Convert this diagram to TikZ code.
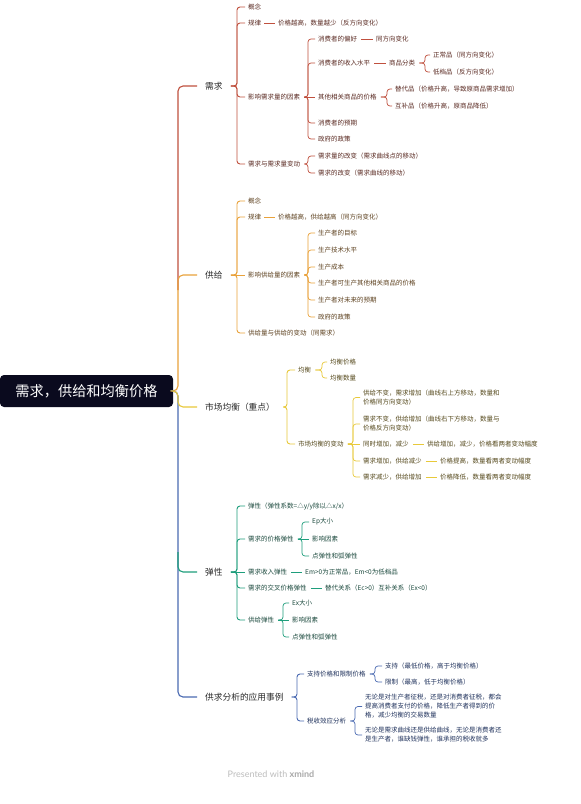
\documentclass[tikz,border=0pt]{standalone}
\usepackage{fontspec}
\setmainfont{Noto Sans CJK SC}
\newfontfamily\footfont{Lato}
\definecolor{cR}{HTML}{C0503E}
\definecolor{cO}{HTML}{E9A23B}
\definecolor{cY}{HTML}{E8C93A}
\definecolor{cG}{HTML}{1E9E7C}
\definecolor{cB}{HTML}{4A6AB2}
\definecolor{tR}{HTML}{5A2A22}
\definecolor{tO}{HTML}{5E4220}
\definecolor{tY}{HTML}{55491C}
\definecolor{tG}{HTML}{1C4A3E}
\definecolor{tB}{HTML}{22345E}
\definecolor{tM}{HTML}{2A2A2A}
\definecolor{rootbg}{HTML}{0A0A1E}
\definecolor{foot}{HTML}{BDBDBD}
\definecolor{footb}{HTML}{A8A8A8}
\newcommand\bra[5]{\draw[#1] ([xshift=#5]#2.east) -| (#4,0 |- #3.west) -- ([xshift=-3pt]#3.west);}
\newcommand\lnk[4]{\draw[#1] ([xshift=#4]#2.east) -- ([xshift=-3pt]#3.west);}
\tikzset{
  rootbox/.style={fill=rootbg, text=white, rounded corners=4pt, minimum width=173pt, minimum height=32pt, inner sep=0pt, font=\fontsize{14.2}{16}\selectfont},
  lvone/.style={font=\fontsize{8.7}{10}\selectfont, text=tM, inner sep=0pt, anchor=west},
  lvtwo/.style={font=\fontsize{6.5}{9}\selectfont, inner sep=0pt, anchor=west, align=left},
  nR/.style={lvtwo, text=tR}, nO/.style={lvtwo, text=tO}, nY/.style={lvtwo, text=tY},
  nG/.style={lvtwo, text=tG}, nB/.style={lvtwo, text=tB},
  trunkR/.style={draw=cR, line width=1.1pt, rounded corners=5pt},
  trunkO/.style={draw=cO, line width=1.1pt, rounded corners=5pt},
  trunkY/.style={draw=cY, line width=1.1pt, rounded corners=5pt},
  trunkG/.style={draw=cG, line width=1.1pt, rounded corners=5pt},
  trunkB/.style={draw=cB, line width=1.1pt, rounded corners=5pt},
  aR/.style={draw=cR, line width=0.9pt, rounded corners=3pt},
  aO/.style={draw=cO, line width=0.9pt, rounded corners=3pt},
  aY/.style={draw=cY, line width=0.9pt, rounded corners=3pt},
  aG/.style={draw=cG, line width=0.9pt, rounded corners=3pt},
  aB/.style={draw=cB, line width=0.9pt, rounded corners=3pt},
  bR/.style={draw=cR, line width=0.7pt, rounded corners=3pt},
  bO/.style={draw=cO, line width=0.7pt, rounded corners=3pt},
  bY/.style={draw=cY, line width=0.7pt, rounded corners=3pt},
  bG/.style={draw=cG, line width=0.7pt, rounded corners=3pt},
  bB/.style={draw=cB, line width=0.7pt, rounded corners=3pt},
}
\begin{document}
\begin{tikzpicture}[x=1pt,y=-1pt]
\useasboundingbox[fill=white] (0,0) rectangle (581,804);
% root
\node[rootbox] (root) at (86.5,391) {需求，供给和均衡价格};
% level 1
\node[lvone] (d) at (205,86) {需求};
\node[lvone] (s) at (205,275) {供给};
\node[lvone] (m) at (205,407) {市场均衡（重点）};
\node[lvone] (e) at (205,572) {弹性};
\node[lvone] (a) at (205,697) {供求分析的应用事例};
% trunk
\coordinate (gtop) at (178,552);
\coordinate (rbot) at (178,290);
\draw[trunkR] (rbot) |- ([xshift=-8pt]d.west);
\draw[trunkO] (root.east) -| (178,0 |- s.west) -- ([xshift=-8pt]s.west);
\draw[trunkB] (root.east) -| (178,0 |- a.west) -- ([xshift=-8pt]a.west);
\draw[trunkG] (gtop) |- ([xshift=-8pt]e.west);
\draw[trunkY] (root.east) -| (178,0 |- m.west) -- ([xshift=-8pt]m.west);

% ===== 需求 =====
\node[nR] (d2a) at (248,7) {概念};
\node[nR] (d2b) at (248,23) {规律};
\node[nR] (d2b1) at (278,23) {价格越高，数量越少（反方向变化）};
\node[nR] (d2c) at (248,97) {影响需求量的因素};
\node[nR] (d3a) at (318,39) {消费者的偏好};
\node[nR] (d3a1) at (376,39) {同方向变化};
\node[nR] (d3b) at (318,63) {消费者的收入水平};
\node[nR] (d3b1) at (389,63) {商品分类};
\node[nR] (d3b1a) at (433,55) {正常品（同方向变化）};
\node[nR] (d3b1b) at (433,72) {低档品（反方向变化）};
\node[nR] (d3c) at (318,97) {其他相关商品的价格};
\node[nR] (d3c1) at (395,89) {替代品（价格升高，导致原商品需求增加）};
\node[nR] (d3c2) at (395,106) {互补品（价格升高，原商品降低）};
\node[nR] (d3d) at (318,123) {消费者的预期};
\node[nR] (d3e) at (318,139) {政府的政策};
\node[nR] (d2d) at (248,164) {需求与需求量变动};
\node[nR] (d2d1) at (318,156) {需求量的改变（需求曲线点的移动）};
\node[nR] (d2d2) at (318,173) {需求的改变（需求曲线的移动）};
\bra{aR}{d}{d2a}{237}{8pt}
\bra{aR}{d}{d2b}{237}{8pt}
\bra{aR}{d}{d2c}{237}{8pt}
\bra{aR}{d}{d2d}{237}{8pt}
\lnk{bR}{d2b}{d2b1}{3pt}
\bra{bR}{d2c}{d3a}{308}{4pt}
\bra{bR}{d2c}{d3b}{308}{4pt}
\lnk{bR}{d2c}{d3c}{4pt}
\bra{bR}{d2c}{d3d}{308}{4pt}
\bra{bR}{d2c}{d3e}{308}{4pt}
\lnk{bR}{d3a}{d3a1}{4pt}
\lnk{bR}{d3b}{d3b1}{4pt}
\bra{bR}{d3b1}{d3b1a}{425}{4pt}
\bra{bR}{d3b1}{d3b1b}{425}{4pt}
\bra{bR}{d3c}{d3c1}{387}{4pt}
\bra{bR}{d3c}{d3c2}{387}{4pt}
\bra{bR}{d2d}{d2d1}{308}{4pt}
\bra{bR}{d2d}{d2d2}{308}{4pt}

% ===== 供给 =====
\node[nO] (s2a) at (248,201) {概念};
\node[nO] (s2b) at (248,217) {规律};
\node[nO] (s2b1) at (278,217) {价格越高，供给越高（同方向变化）};
\node[nO] (s2c) at (248,275) {影响供给量的因素};
\node[nO] (s3a) at (318,233) {生产者的目标};
\node[nO] (s3b) at (318,250) {生产技术水平};
\node[nO] (s3c) at (318,267) {生产成本};
\node[nO] (s3d) at (318,283) {生产者可生产其他相关商品的价格};
\node[nO] (s3e) at (318,300) {生产者对未来的预期};
\node[nO] (s3f) at (318,317) {政府的政策};
\node[nO] (s2d) at (248,333) {供给量与供给的变动（同需求）};
\bra{aO}{s}{s2a}{237}{8pt}
\bra{aO}{s}{s2b}{237}{8pt}
\lnk{aO}{s}{s2c}{8pt}
\bra{aO}{s}{s2d}{237}{8pt}
\lnk{bO}{s2b}{s2b1}{3pt}
\bra{bO}{s2c}{s3a}{308}{4pt}
\bra{bO}{s2c}{s3b}{308}{4pt}
\bra{bO}{s2c}{s3c}{308}{4pt}
\bra{bO}{s2c}{s3d}{308}{4pt}
\bra{bO}{s2c}{s3e}{308}{4pt}
\bra{bO}{s2c}{s3f}{308}{4pt}

% ===== 市场均衡 =====
\node[nY] (m2a) at (298,370) {均衡};
\node[nY] (m2a1) at (330,362) {均衡价格};
\node[nY] (m2a2) at (330,378) {均衡数量};
\node[nY] (m2b) at (298,444) {市场均衡的变动};
\node[nY] (m3a) at (363,397.5) {供给不变，需求增加（曲线右上方移动，数量和\\价格同方向变动）};
\node[nY] (m3b) at (363,424) {需求不变，供给增加（曲线右下方移动，数量与\\价格反方向变动）};
\node[nY] (m3c) at (363,444) {同时增加，减少};
\node[nY] (m3c1) at (427,444) {供给增加，减少，价格看两者变动幅度};
\node[nY] (m3d) at (363,461) {需求增加，供给减少};
\node[nY] (m3d1) at (440,461) {价格提高，数量看两者变动幅度};
\node[nY] (m3e) at (363,477) {需求减少，供给增加};
\node[nY] (m3e1) at (440,477) {价格降低，数量看两者变动幅度};
\bra{aY}{m}{m2a}{287}{8pt}
\bra{aY}{m}{m2b}{287}{8pt}
\bra{bY}{m2a}{m2a1}{322}{4pt}
\bra{bY}{m2a}{m2a2}{322}{4pt}
\bra{bY}{m2b}{m3a}{353}{4pt}
\bra{bY}{m2b}{m3b}{353}{4pt}
\lnk{bY}{m2b}{m3c}{4pt}
\bra{bY}{m2b}{m3d}{353}{4pt}
\bra{bY}{m2b}{m3e}{353}{4pt}
\lnk{bY}{m3c}{m3c1}{4pt}
\lnk{bY}{m3d}{m3d1}{4pt}
\lnk{bY}{m3e}{m3e1}{4pt}

% ===== 弹性 =====
\node[nG] (e2a) at (248,506) {弹性（弹性系数=△y/y除以△x/x）};
\node[nG] (e2b) at (248,539) {需求的价格弹性};
\node[nG] (e2b1) at (312,522) {Ep大小};
\node[nG] (e2b2) at (312,539) {影响因素};
\node[nG] (e2b3) at (312,556) {点弹性和弧弹性};
\node[nG] (e2c) at (248,572) {需求收入弹性};
\node[nG] (e2c1) at (305,572) {Em>0为正常品，Em<0为低档品};
\node[nG] (e2d) at (248,588) {需求的交叉价格弹性};
\node[nG] (e2d1) at (325,588) {替代关系（Ec>0）互补关系（Ex<0）};
\node[nG] (e2e) at (248,620) {供给弹性};
\node[nG] (e2e1) at (292,603) {Ex大小};
\node[nG] (e2e2) at (292,620) {影响因素};
\node[nG] (e2e3) at (292,637) {点弹性和弧弹性};
\bra{aG}{e}{e2a}{237}{8pt}
\bra{aG}{e}{e2b}{237}{8pt}
\lnk{aG}{e}{e2c}{8pt}
\bra{aG}{e}{e2d}{237}{8pt}
\bra{aG}{e}{e2e}{237}{8pt}
\bra{bG}{e2b}{e2b1}{302}{4pt}
\lnk{bG}{e2b}{e2b2}{4pt}
\bra{bG}{e2b}{e2b3}{302}{4pt}
\lnk{bG}{e2c}{e2c1}{4pt}
\lnk{bG}{e2d}{e2d1}{4pt}
\bra{bG}{e2e}{e2e1}{283}{4pt}
\lnk{bG}{e2e}{e2e2}{4pt}
\bra{bG}{e2e}{e2e3}{283}{4pt}

% ===== 应用 =====
\node[nB] (a2a) at (307,674) {支持价格和限制价格};
\node[nB] (a2a1) at (385,666) {支持（最低价格，高于均衡价格）};
\node[nB] (a2a2) at (385,682) {限制（最高，低于均衡价格）};
\node[nB] (a2b) at (307,721) {税收效应分析};
\node[nB] (a2b1) at (365,706.5) {无论是对生产者征税，还是对消费者征税，都会\\提高消费者支付的价格，降低生产者得到的价\\格，减少均衡的交易数量};
\node[nB] (a2b2) at (365,735) {无论是需求曲线还是供给曲线，无论是消费者还\\是生产者，谁缺钱弹性，谁承担的税收就多};
\bra{aB}{a}{a2a}{297}{8pt}
\bra{aB}{a}{a2b}{297}{8pt}
\bra{bB}{a2a}{a2a1}{375}{4pt}
\bra{bB}{a2a}{a2a2}{375}{4pt}
\bra{bB}{a2b}{a2b1}{355}{4pt}
\bra{bB}{a2b}{a2b2}{355}{4pt}

% footer
\node[font=\footfont\fontsize{9}{10}\selectfont, text=foot, inner sep=0pt] (footer) at (271,774) {Presented with {\bfseries\color{footb}xmind}};
\end{tikzpicture}
\end{document}
